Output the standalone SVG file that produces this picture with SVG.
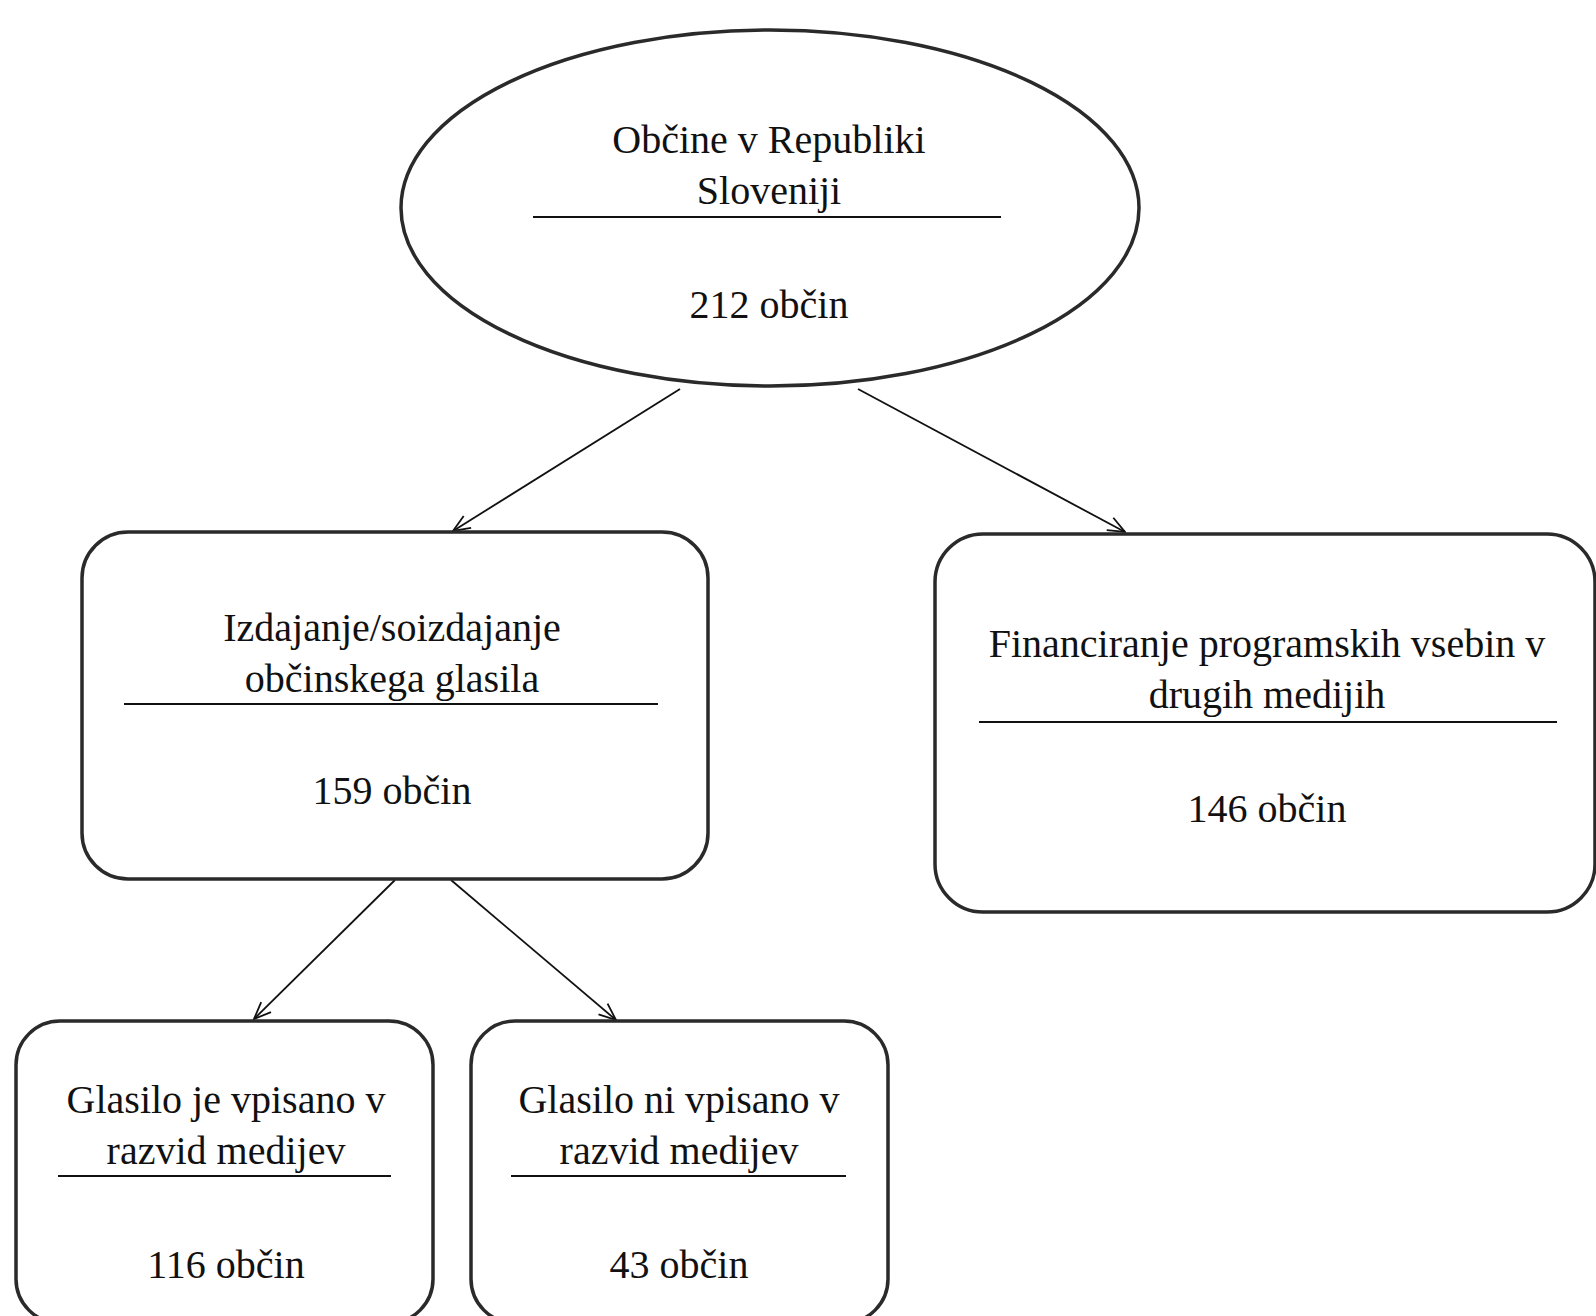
<svg xmlns="http://www.w3.org/2000/svg" width="1596" height="1316" viewBox="0 0 1596 1316">
<style>
.shape{fill:#fff;stroke:#2a2a2a;stroke-width:3.5}
.t{font-family:"Liberation Serif","Times New Roman",serif;font-size:40px;fill:#111;text-anchor:middle}
.hr{stroke:#111;stroke-width:2}
.conn{stroke:#111;stroke-width:1.8;fill:none;marker-end:url(#arr)}
</style>
<defs>
<marker id="arr" viewBox="0 0 20 20" refX="19" refY="10" markerWidth="20" markerHeight="20" markerUnits="userSpaceOnUse" orient="auto">
<path d="M2,3 L19,10 L2,17" fill="none" stroke="#111" stroke-width="1.8"/>
</marker>
</defs>
<rect width="1596" height="1316" fill="#fff"/>
<g id="connectors">
<line class="conn" x1="680" y1="389" x2="453" y2="531"/>
<line class="conn" x1="858" y1="389" x2="1125" y2="532"/>
<line class="conn" x1="395" y1="880" x2="254" y2="1019"/>
<line class="conn" x1="451" y1="880" x2="616" y2="1020"/>
</g>
<g id="n-root">
<ellipse class="shape" cx="770" cy="208" rx="369" ry="178"/>
<text class="t" x="769" y="153">Občine v Republiki</text>
<text class="t" x="769" y="204">Sloveniji</text>
<line class="hr" x1="533" y1="217" x2="1001" y2="217"/>
<text class="t" x="769" y="318">212 občin</text>
</g>
<g id="n-izdajanje">
<rect class="shape" x="82" y="532" width="626" height="347" rx="46" ry="46"/>
<text class="t" x="392" y="641">Izdajanje/soizdajanje</text>
<text class="t" x="392" y="692">občinskega glasila</text>
<line class="hr" x1="124" y1="704" x2="658" y2="704"/>
<text class="t" x="392" y="804">159 občin</text>
</g>
<g id="n-financiranje">
<rect class="shape" x="935" y="534" width="660" height="378" rx="48" ry="48"/>
<text class="t" x="1267" y="657">Financiranje programskih vsebin v</text>
<text class="t" x="1267" y="708">drugih medijih</text>
<line class="hr" x1="979" y1="722" x2="1557" y2="722"/>
<text class="t" x="1267" y="822">146 občin</text>
</g>
<g id="n-vpisano">
<rect class="shape" x="16" y="1021" width="417" height="302" rx="44" ry="44"/>
<text class="t" x="226" y="1113">Glasilo je vpisano v</text>
<text class="t" x="226" y="1164">razvid medijev</text>
<line class="hr" x1="58" y1="1176" x2="391" y2="1176"/>
<text class="t" x="226" y="1278">116 občin</text>
</g>
<g id="n-nivpisano">
<rect class="shape" x="471" y="1021" width="417" height="302" rx="44" ry="44"/>
<text class="t" x="679" y="1113">Glasilo ni vpisano v</text>
<text class="t" x="679" y="1164">razvid medijev</text>
<line class="hr" x1="511" y1="1176" x2="846" y2="1176"/>
<text class="t" x="679" y="1278">43 občin</text>
</g>
</svg>
